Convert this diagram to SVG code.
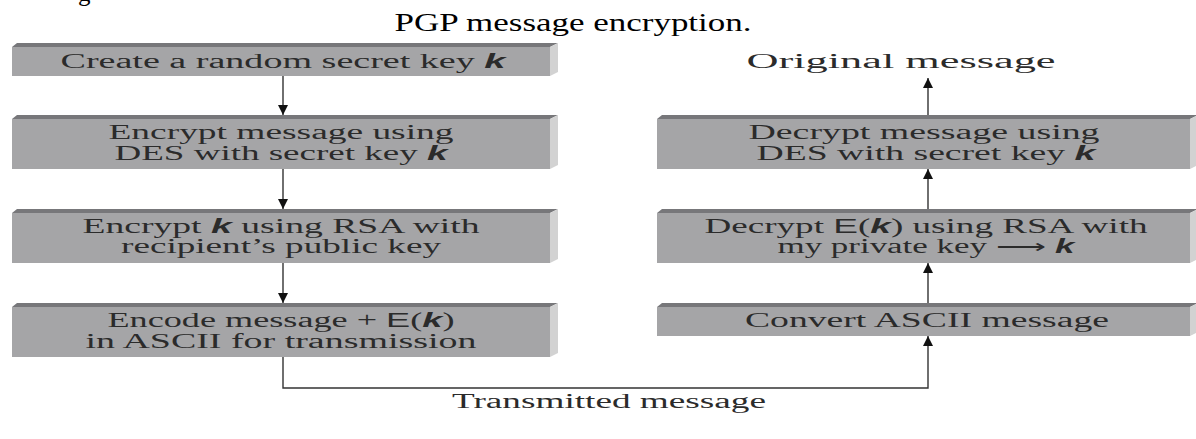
<svg xmlns="http://www.w3.org/2000/svg" width="1196" height="439" viewBox="0 0 1196 439">
<defs>
<style>
.front{fill:#a5a5a7}
.top{fill:#77777a}
.side{fill:#d2d2d2}
.t{font-family:"Liberation Serif","Times New Roman",serif;font-size:20px;fill:#2b2b2b;text-anchor:middle}
.k{font-family:"Liberation Sans",Arial,sans-serif;font-style:italic;font-weight:bold}
.e{font-family:"Liberation Sans",Arial,sans-serif}
.title{font-family:"Liberation Serif","Times New Roman",serif;font-size:25px;fill:#000;text-anchor:middle}
.c{stroke:#333;stroke-width:1.4;fill:none}
</style>
<marker id="ah" viewBox="0 0 10 10" refX="10" refY="5" markerWidth="10" markerHeight="10" markerUnits="userSpaceOnUse" orient="auto">
<path d="M0,0 L10,5 L0,10 z" fill="#111"/>
</marker>
</defs>
<rect width="1196" height="439" fill="#fff"/>
<text class="title" x="78" y="1" style="text-anchor:start">g</text>
<text class="title" x="573" y="31" textLength="357" lengthAdjust="spacingAndGlyphs">PGP message encryption.</text>

<g id="connectors">
<line class="c" x1="283" y1="76" x2="283" y2="115" marker-end="url(#ah)"/>
<line class="c" x1="283" y1="169" x2="283" y2="209" marker-end="url(#ah)"/>
<line class="c" x1="283" y1="263" x2="283" y2="303" marker-end="url(#ah)"/>
<polyline class="c" points="283,357 283,388 928,388 928,336" marker-end="url(#ah)"/>
<line class="c" x1="928" y1="303" x2="928" y2="263" marker-end="url(#ah)"/>
<line class="c" x1="928" y1="209" x2="928" y2="169" marker-end="url(#ah)"/>
<line class="c" x1="928" y1="115" x2="928" y2="78" marker-end="url(#ah)"/>
</g>

<g id="n1">
<polygon class="top" points="12,47 17,43 558,43 550,47"/>
<polygon class="side" points="550,47 558,43 558,72 550,76"/>
<rect class="front" x="12" y="47" width="538" height="29"/>
<text class="t" x="283" y="68" textLength="445" lengthAdjust="spacingAndGlyphs">Create a random secret key <tspan class="k">k</tspan></text>
</g>
<g id="n2">
<polygon class="top" points="12,119 17,115 558,115 550,119"/>
<polygon class="side" points="550,119 558,115 558,165 550,169"/>
<rect class="front" x="12" y="119" width="538" height="50"/>
<text class="t" x="281" y="139" textLength="345" lengthAdjust="spacingAndGlyphs">Encrypt message using</text>
<text class="t" x="281" y="160" textLength="333" lengthAdjust="spacingAndGlyphs">DES with secret key <tspan class="k">k</tspan></text>
</g>
<g id="n3">
<polygon class="top" points="12,213 17,209 558,209 550,213"/>
<polygon class="side" points="550,213 558,209 558,259 550,263"/>
<rect class="front" x="12" y="213" width="538" height="50"/>
<text class="t" x="281" y="233" textLength="397" lengthAdjust="spacingAndGlyphs">Encrypt <tspan class="k">k</tspan> using RSA with</text>
<text class="t" x="281" y="253" textLength="320" lengthAdjust="spacingAndGlyphs">recipient’s public key</text>
</g>
<g id="n4">
<polygon class="top" points="12,307 17,303 558,303 550,307"/>
<polygon class="side" points="550,307 558,303 558,353 550,357"/>
<rect class="front" x="12" y="307" width="538" height="50"/>
<text class="t" x="281" y="327" textLength="347" lengthAdjust="spacingAndGlyphs">Encode message + <tspan class="e">E</tspan>(<tspan class="k">k</tspan>)</text>
<text class="t" x="281" y="348" textLength="391" lengthAdjust="spacingAndGlyphs">in ASCII for transmission</text>
</g>

<g id="n5">
<text class="t" x="901" y="68" textLength="309" lengthAdjust="spacingAndGlyphs">Original message</text>
</g>
<g id="n6">
<polygon class="top" points="657,119 662,115 1198,115 1190,119"/>
<polygon class="side" points="1190,119 1198,115 1198,165 1190,169"/>
<rect class="front" x="657" y="119" width="533" height="50"/>
<text class="t" x="924" y="139" textLength="351" lengthAdjust="spacingAndGlyphs">Decrypt message using</text>
<text class="t" x="926" y="160" textLength="339" lengthAdjust="spacingAndGlyphs">DES with secret key <tspan class="k">k</tspan></text>
</g>
<g id="n7">
<polygon class="top" points="657,213 662,209 1198,209 1190,213"/>
<polygon class="side" points="1190,213 1198,209 1198,259 1190,263"/>
<rect class="front" x="657" y="213" width="533" height="50"/>
<text class="t" x="926" y="233" textLength="443" lengthAdjust="spacingAndGlyphs">Decrypt <tspan class="e">E</tspan>(<tspan class="k">k</tspan>) using RSA with</text>
<text class="t" x="926" y="253" textLength="297" lengthAdjust="spacingAndGlyphs">my private key ⟶ <tspan class="k">k</tspan></text>
</g>
<g id="n8">
<polygon class="top" points="657,307 662,303 1198,303 1190,307"/>
<polygon class="side" points="1190,307 1198,303 1198,332 1190,336"/>
<rect class="front" x="657" y="307" width="533" height="29"/>
<text class="t" x="927" y="327" textLength="364" lengthAdjust="spacingAndGlyphs">Convert ASCII message</text>
</g>
<g id="n9">
<text class="t" x="609" y="408" textLength="314" lengthAdjust="spacingAndGlyphs">Transmitted message</text>
</g>
</svg>
